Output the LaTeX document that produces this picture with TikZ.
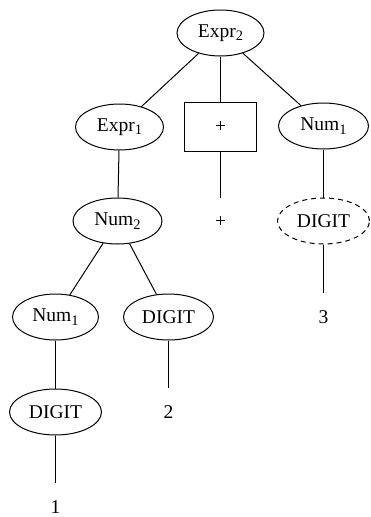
\documentclass[tikz,border=0pt]{standalone}
\usepackage{fontspec}
\setmainfont{Liberation Serif}
\usetikzlibrary{shapes.geometric}
\newcommand\gsub[1]{\raisebox{-0.4ex}{\fontsize{14.5}{15}\selectfont #1}}
\tikzset{
  every node/.style={font=\fontsize{19.5}{21}\selectfont},
  ell/.style={ellipse, draw, line width=1pt, inner sep=0pt, minimum height=46pt, minimum width=#1},
  ell/.default=88pt,
  dell/.style={ell=#1, dash pattern=on 5pt off 4pt},
  boxnode/.style={rectangle, draw, line width=1pt, minimum width=72pt, minimum height=49pt, inner sep=0pt},
  leaf/.style={rectangle, inner sep=0pt, minimum height=48pt, minimum width=20pt},
  edge/.style={line width=1pt}
}
\begin{document}
\begin{tikzpicture}[x=1pt,y=-1pt]
\useasboundingbox (0,0) rectangle (371,517);
\node[ell=87pt] (e2) at (220.5,33) {Expr\gsub{2}};
\node[ell=88pt] (e1) at (119.5,127) {Expr\gsub{1}};
\node[boxnode] (pb) at (220.5,126.5) {+};
\node[ell=90pt] (n1r) at (323.5,126) {Num\gsub{1}};
\node[leaf] (pt) at (220.5,222) {+};
\node[ell=89pt] (n2) at (117.5,221) {Num\gsub{2}};
\node[dell=92pt] (dr) at (323.5,221) {DIGIT};
\node[leaf] (t3) at (323.5,317) {3};
\node[ell=86pt] (n1l) at (55.5,317) {Num\gsub{1}};
\node[ell=90pt] (dm) at (168.5,317) {DIGIT};
\node[leaf] (t2) at (168.5,412) {2};
\node[ell=92pt] (dl) at (55.5,412) {DIGIT};
\node[leaf] (t1) at (55.5,507) {1};
\draw[edge] (e2) -- (e1);
\draw[edge] (e2) -- (pb);
\draw[edge] (e2) -- (n1r);
\draw[edge] (e1) -- (n2);
\draw[edge] (pb) -- (pt);
\draw[edge] (n1r) -- (dr);
\draw[edge] (dr) -- (t3);
\draw[edge] (n2) -- (n1l);
\draw[edge] (n2) -- (dm);
\draw[edge] (dm) -- (t2);
\draw[edge] (n1l) -- (dl);
\draw[edge] (dl) -- (t1);
\end{tikzpicture}
\end{document}
